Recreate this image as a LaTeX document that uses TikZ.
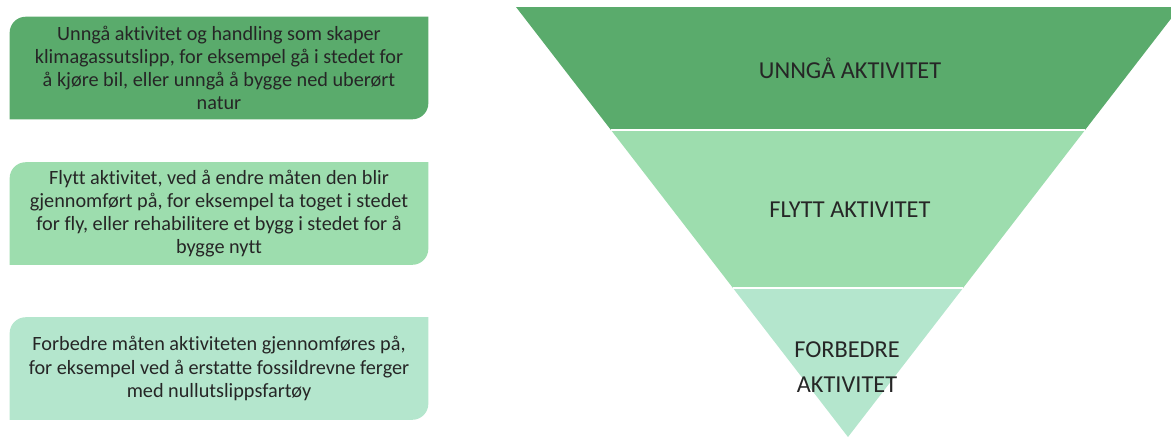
\documentclass[tikz,border=0pt]{standalone}
\usepackage{fontspec}
\setmainfont[Ligatures=NoCommon]{Carlito}
\usetikzlibrary{calc,backgrounds}
\definecolor{topgreen}{RGB}{90,171,108}
\definecolor{midgreen}{RGB}{157,221,174}
\definecolor{lowgreen}{RGB}{180,230,205}
\definecolor{inktext}{RGB}{38,38,38}
\tikzset{
  leaf/.style = {minimum width=10.45cm, minimum height=2.55cm, inner sep=0pt,
                 align=center, text=inktext, font=\fontsize{14.4}{16.4}\selectfont},
  tierlabel/.style = {align=center, text=inktext, font=\fontsize{17.3}{25}\selectfont},
  gap/.style = {white, line width=1.5pt},
}
% leaf box: round top-left and bottom-right corners only
\newcommand{\leafshape}[2]{%
  \fill[#2] (#1.south west) -- ([yshift=-0.4cm]#1.north west)
    arc[start angle=180, end angle=90, radius=0.4cm] -- (#1.north east)
    -- ([yshift=0.4cm]#1.south east)
    arc[start angle=0, end angle=-90, radius=0.4cm] -- cycle;}

\begin{document}
\begin{tikzpicture}[x=0.025cm, y=-0.025cm]
  \useasboundingbox (0,0) rectangle (1171,437);

  % funnel
  \begin{scope}
    \clip (0,0) rectangle (1171,437);
    \coordinate (tl) at (516,7);
    \coordinate (tr) at (1180,7);
    \coordinate (ap) at (848,437);
    \coordinate (l1) at ($(tl)!0.286!(ap)$);
    \coordinate (r1) at ($(tr)!0.286!(ap)$);
    \coordinate (l2) at ($(tl)!0.653!(ap)$);
    \coordinate (r2) at ($(tr)!0.653!(ap)$);
    \fill[topgreen] (tl) -- (tr) -- (r1) -- (l1) -- cycle;
    \fill[midgreen] (l1) -- (r1) -- (r2) -- (l2) -- cycle;
    \fill[lowgreen] (l2) -- (r2) -- (ap) -- cycle;
    \draw[gap] (l1) -- (r1);
    \draw[gap] (l2) -- (r2);
  \end{scope}

  \node[tierlabel] (avoid) at (850,68) {UNNGÅ AKTIVITET};
  \node[tierlabel] (shift) at (850,210) {FLYTT AKTIVITET};
  \node[tierlabel] (improve) at (847,367) {FORBEDRE\\AKTIVITET};

  % explanations
  \node[leaf] (avoidtxt) at (219,68) {Unngå aktivitet og handling som skaper\\
    klimagassutslipp, for eksempel gå i stedet for\\
    å kjøre bil, eller unngå å bygge ned uberørt\\natur};
  \node[leaf] (shifttxt) at (219,213.5) {Flytt aktivitet, ved å endre måten den blir\\
    gjennomført på, for eksempel ta toget i stedet\\
    for fly, eller rehabilitere et bygg i stedet for å\\bygge nytt};
  \node[leaf] (improvetxt) at (219,368.5) {Forbedre måten aktiviteten gjennomføres på,\\
    for eksempel ved å erstatte fossildrevne ferger\\
    med nullutslippsfartøy};

  \begin{scope}[on background layer]
    \leafshape{avoidtxt}{topgreen}
    \leafshape{shifttxt}{midgreen}
    \leafshape{improvetxt}{lowgreen}
  \end{scope}
\end{tikzpicture}
\end{document}
